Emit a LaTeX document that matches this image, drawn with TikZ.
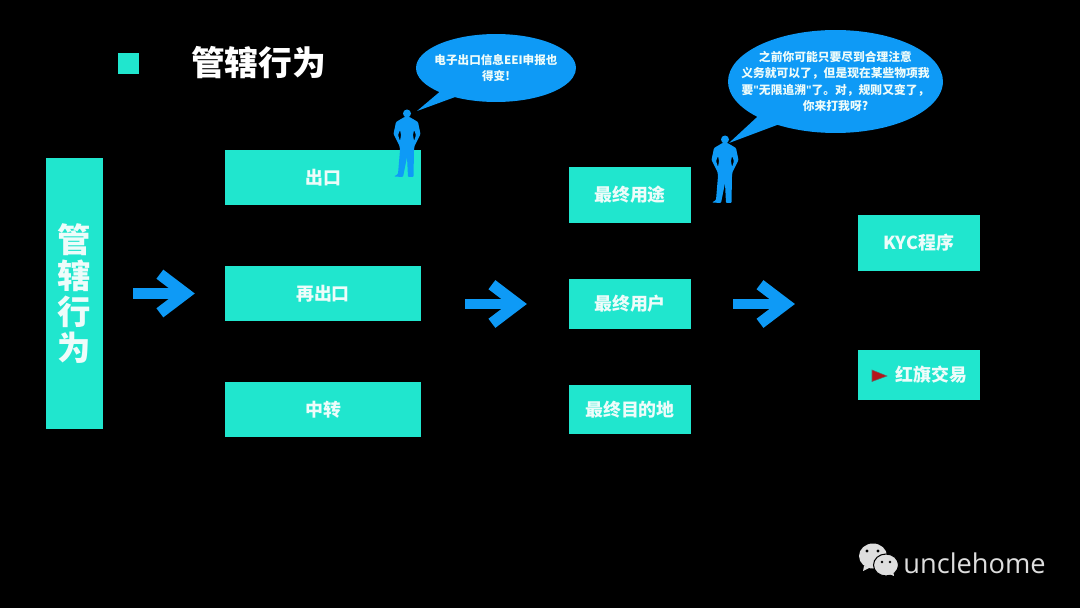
\documentclass[tikz,border=0pt]{standalone}
\usepackage{fontspec}
\setmainfont{Noto Sans CJK SC}
\newfontfamily\logofont{Open Sans}
\usepackage{tikz}
\usetikzlibrary{arrows.meta,positioning,shapes.geometric,shapes.callouts,calc}
\usepackage{xcolor}
\definecolor{tealbox}{HTML}{20E6CE}
\definecolor{skyblue}{HTML}{0E9AF6}
\definecolor{flagred}{HTML}{B5161B}
\definecolor{logogray}{HTML}{DEDEDE}
\definecolor{softwhite}{HTML}{EEFCFA}

\tikzset{
  person/.pic={
    \fill[skyblue] (0,4.5) circle (4);
    \fill[skyblue, even odd rule, rounded corners=0.5pt] (-2.5,8) -- (-11,13) -- (-13.5,25) -- (-7.5,37) -- (-7,41)
      -- (-9,65) -- (-13,67.5) -- (-4,68) -- (0,48) -- (1,68) -- (6.5,68) -- (7,41)
      -- (7.5,37) -- (13.5,25) -- (11,13) -- (2.5,8) -- cycle
      (-7,21) -- (-9,26) -- (-7,32) -- (-6,26) -- cycle
      (7,21) -- (9,26) -- (7,32) -- (6,26) -- cycle;
  }
}

\begin{document}
\begin{tikzpicture}[
    x=0.02cm, y=-0.02cm,
    box/.style={fill=tealbox, text=softwhite, font=\fontsize{10.2}{12}\selectfont\bfseries, minimum height=1.1cm, inner sep=0pt},
    widebox/.style={box, minimum width=3.92cm},
    midbox/.style={box, minimum width=2.44cm},
    bubble/.style={ellipse callout, fill=skyblue, inner sep=0pt, callout pointer arc=14},
    bubbletext/.style={text=softwhite, align=center, font=\fontsize{6.7}{9.3}\selectfont\bfseries},
    flowarrow/.style={draw=skyblue, line width=6.2pt, -{Straight Barb[length=14.5pt, width=22pt, line width=6.5pt]}}
  ]
  \useasboundingbox[fill=black] (0,0) rectangle (1080,608);

  % title
  \node[fill=tealbox, minimum size=0.42cm, inner sep=0pt] (mark) at (128.5,63.5) {};
  \node[text=white, font=\fontsize{19.2}{22}\selectfont\bfseries] (title) at (258.5,63) {管辖行为};

  % columns
  \node[box, minimum width=1.14cm, minimum height=5.42cm, align=center, font=\fontsize{19}{20.5}\selectfont\bfseries] (conduct) at (74.5,293.5) {管\\辖\\行\\为};
  \node[widebox] (export) at (323,177.5) {出口};
  \node[widebox] (reexport) at (323,293.5) {再出口};
  \node[widebox] (transit) at (323,409.5) {中转};
  \node[midbox, minimum height=1.12cm] (enduse) at (630,195) {最终用途};
  \node[midbox, minimum height=1cm] (enduser) at (630,304) {最终用户};
  \node[midbox, minimum height=0.98cm] (enddest) at (630,409.5) {最终目的地};
  \node[midbox, minimum height=1.12cm] (kyc) at (919,243) {KYC程序};
  \node[midbox, minimum height=1cm] (redflag) at (919,375) {\hspace{0.5cm}\raisebox{-1pt}{红旗交易}};
  \fill[flagred, draw=black!60, line width=0.3pt] (872,370) -- (887,376) -- (872,381.5) -- cycle;

  % arrows
  \draw[flowarrow, shorten <=30*0.5669pt, shorten >=30*0.5669pt] (conduct.east) -- (reexport.west);
  \draw[flowarrow, shorten <=44*0.5669pt, shorten >=42*0.5669pt] (reexport.east |- enduser.west) -- (enduser.west);
  \draw[flowarrow, shorten <=42*0.5669pt, shorten >=63*0.5669pt] (enduser.east) -- (enduser.east -| kyc.west);

  % people and what they say
  \pic at (407,109) {person};
  \pic at (725,135) {person};
  \coordinate (speakerA) at (417,111);
  \coordinate (speakerB) at (729,143);
  \node[bubble, minimum width=3.2cm, minimum height=1.36cm, callout absolute pointer={(speakerA)}] (bubbleA) at (496,68) {};
  \node[bubbletext, font=\fontsize{6.6}{9.6}\selectfont\bfseries] (sayA) at (bubbleA.center) {电子出口信息EEI申报也\\得变!};
  \node[bubble, minimum width=4.3cm, minimum height=2.06cm, callout absolute pointer={(speakerB)}] (bubbleB) at (835.5,81.5) {};
  \node[bubbletext] (sayB) at (bubbleB.center) {之前你可能只要尽到合理注意\\义务就可以了，但是现在某些物项我\\要{\logofont"}无限追溯{\logofont"}了。对，规则又变了，\\你来打我呀?};

  % logo
  \fill[logogray] (873,556) ellipse (14 and 12.5);
  \fill[logogray] (864,566) -- (863,571) -- (871,567) -- cycle;
  \fill[logogray, draw=black, line width=0.6pt] (886,565) ellipse (12.5 and 11);
  \fill[logogray] (889,574) -- (894,576) -- (893,570) -- cycle;
  \fill[black] (867,551) circle (1.6) (878,551) circle (1.6) (882,562) circle (1.3) (890,562) circle (1.3);
  \node[text=logogray, font=\logofont\fontsize{15.5}{18}\selectfont, anchor=west, inner sep=0pt] (brand) at (903,563) {unclehome};
\end{tikzpicture}
\end{document}
